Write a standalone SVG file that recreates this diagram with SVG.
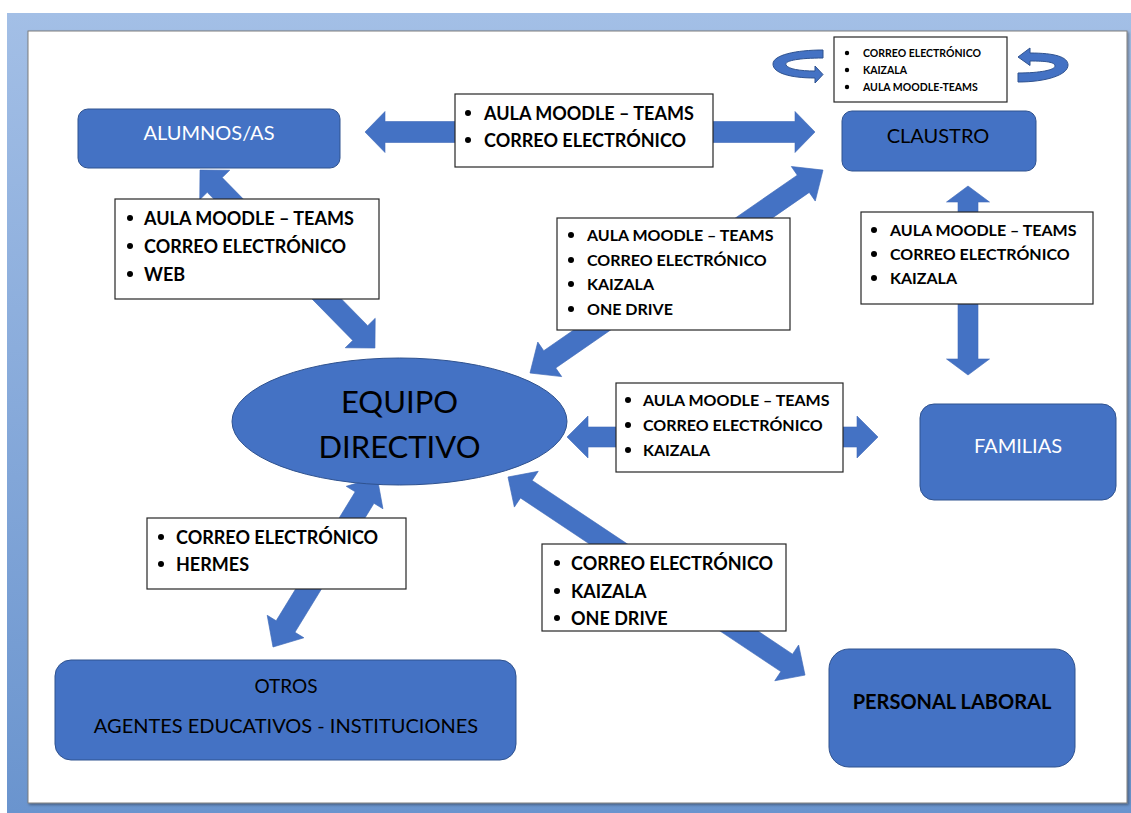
<svg xmlns="http://www.w3.org/2000/svg" width="1131" height="813" viewBox="0 0 1131 813">
<defs>
<linearGradient id="bg" x1="0" y1="0" x2="0" y2="1">
<stop offset="0" stop-color="#A3BFE6"/>
<stop offset="1" stop-color="#6A94CE"/>
</linearGradient>
<filter id="sh" x="-5%" y="-5%" width="110%" height="110%">
<feDropShadow dx="1.5" dy="1.5" stdDeviation="1" flood-color="#000" flood-opacity="0.35"/>
</filter>
</defs>
<style>
.shape{fill:#4472C4;stroke:#2F528F;stroke-width:1}
.arrow{fill:#4472C4;stroke:#3F6AB8;stroke-width:0.6}
.box{fill:#FFFFFF;stroke:#262626;stroke-width:1.2}
.bul{fill:#000}
.t{font-family:Lato,"Liberation Sans",sans-serif;fill:#000}
.w{fill:#FFFFFF}
.lb{font-weight:bold;font-size:18px}
.lm{font-weight:bold;font-size:16px}
.ls{font-weight:bold;font-size:10.5px}
.mid{text-anchor:middle}
</style>
<rect x="0" y="0" width="1131" height="813" fill="#FFFFFF"/>
<rect x="7" y="13" width="1124" height="800" fill="url(#bg)"/>
<rect x="28" y="31" width="1099" height="772" fill="#FFFFFF" stroke="#7F7F7F" stroke-width="1" filter="url(#sh)"/>

<g id="connectors">
<polygon class="arrow" transform="translate(365,132)" points="0,0 20,-20.5 20,-10.5 430,-10.5 430,-20.5 450,0 430,20.5 430,10.5 20,10.5 20,20.5"/>
<polygon class="arrow" transform="translate(200,170) rotate(45.5)" points="0,0 21,-21 21,-10.5 228.6,-10.5 228.6,-21 249.6,0 228.6,21 228.6,10.5 21,10.5 21,21"/>
<polygon class="arrow" transform="translate(530,373) rotate(-34.7)" points="0,0 24,-21 24,-10.5 332.4,-10.5 332.4,-21 356.4,0 332.4,21 332.4,10.5 24,10.5 24,21"/>
<polygon class="arrow" transform="translate(968,186) rotate(90)" points="0,0 16,-21.5 16,-10 173,-10 173,-21.5 189,0 173,21.5 173,10 16,10 16,21.5"/>
<polygon class="arrow" transform="translate(567,437) rotate(0)" points="0,0 21,-21 21,-10 290,-10 290,-21 311,0 290,21 290,10 21,10 21,21"/>
<polygon class="arrow" transform="translate(273,647) rotate(-58.5)" points="0,0 24,-21.5 24,-11 175.3,-11 175.3,-21.5 199.3,0 175.3,21.5 175.3,11 24,11 24,21.5"/>
<polygon class="arrow" transform="translate(508,477) rotate(33.7)" points="0,0 22,-21.5 22,-10.5 335,-10.5 335,-21.5 357,0 335,21.5 335,10.5 22,10.5 22,21.5"/>
<path class="shape" d="M 823 50 L 823 58 C 797 58 784 61 786 65 C 788 69 800 71 815 71 L 815 66 L 823 74.5 L 815 83 L 815 78 C 790 78 773 73 773 64 C 773 55 796 50 823 50 Z"/>
<path class="shape" d="M 1018 57 L 1030 48 L 1030 53 C 1055 53 1068 57 1068 65 C 1068 75 1046 82 1018 82 L 1018 73 C 1040 73 1055 70 1055 66 C 1055 62 1046 61 1030 61 L 1030 65.5 Z"/>
</g>

<g id="alumnos">
<rect class="shape" x="78" y="109" width="262" height="59" rx="10"/>
<text class="t w mid" x="209" y="140" font-size="20">ALUMNOS/AS</text>
</g>

<g id="claustro">
<rect class="shape" x="842" y="111" width="194" height="60" rx="10"/>
<text class="t mid" x="938" y="143" font-size="20">CLAUSTRO</text>
</g>

<g id="familias">
<rect class="shape" x="920" y="404" width="196" height="96" rx="14"/>
<text class="t w mid" x="1018" y="453" font-size="20">FAMILIAS</text>
</g>

<g id="equipo">
<ellipse class="shape" cx="399.5" cy="421.5" rx="167.5" ry="63.5"/>
<text class="t mid" x="399.5" y="413" font-size="31">EQUIPO</text>
<text class="t mid" x="399.5" y="458" font-size="31">DIRECTIVO</text>
</g>

<g id="otros">
<rect class="shape" x="55" y="660" width="461" height="100" rx="16"/>
<text class="t mid" x="286" y="693" font-size="19">OTROS</text>
<text class="t mid" x="286" y="733" font-size="20">AGENTES EDUCATIVOS - INSTITUCIONES</text>
</g>

<g id="personal">
<rect class="shape" x="829" y="649" width="246" height="118" rx="20"/>
<text class="t mid" x="952" y="709" font-size="20" font-weight="bold">PERSONAL LABORAL</text>
</g>

<g id="label-claustro-interno">
<rect class="box" x="834" y="37" width="173" height="65"/>
<circle class="bul" cx="847" cy="53" r="2.2"/>
<circle class="bul" cx="847" cy="70" r="2.2"/>
<circle class="bul" cx="847" cy="87" r="2.2"/>
<text class="t ls" x="863" y="57">CORREO  ELECTRÓNICO</text>
<text class="t ls" x="863" y="74">KAIZALA</text>
<text class="t ls" x="863" y="91">AULA MOODLE-TEAMS</text>
</g>

<g id="label-alumnos-claustro">
<rect class="box" x="455" y="94" width="258" height="73"/>
<circle class="bul" cx="468" cy="113" r="3"/>
<circle class="bul" cx="468" cy="140" r="3"/>
<text class="t lb" x="484" y="119.5">AULA MOODLE – TEAMS</text>
<text class="t lb" x="484" y="146.5">CORREO ELECTRÓNICO</text>
</g>

<g id="label-alumnos-equipo">
<rect class="box" x="115" y="199" width="264" height="100"/>
<circle class="bul" cx="130" cy="218" r="3"/>
<circle class="bul" cx="130" cy="246" r="3"/>
<circle class="bul" cx="130" cy="274" r="3"/>
<text class="t lb" x="144" y="224.5">AULA MOODLE – TEAMS</text>
<text class="t lb" x="144" y="252.5">CORREO ELECTRÓNICO</text>
<text class="t lb" x="144" y="280.5">WEB</text>
</g>

<g id="label-equipo-claustro">
<rect class="box" x="557" y="218" width="233" height="112"/>
<circle class="bul" cx="571" cy="235" r="3"/>
<circle class="bul" cx="571" cy="260" r="3"/>
<circle class="bul" cx="571" cy="284" r="3"/>
<circle class="bul" cx="571" cy="309" r="3"/>
<text class="t lm" x="587" y="241">AULA MOODLE – TEAMS</text>
<text class="t lm" x="587" y="266">CORREO ELECTRÓNICO</text>
<text class="t lm" x="587" y="290">KAIZALA</text>
<text class="t lm" x="587" y="315">ONE DRIVE</text>
</g>

<g id="label-claustro-familias">
<rect class="box" x="861" y="212" width="232" height="92"/>
<circle class="bul" cx="874" cy="230" r="3"/>
<circle class="bul" cx="874" cy="254" r="3"/>
<circle class="bul" cx="874" cy="278" r="3"/>
<text class="t lm" x="890" y="236">AULA MOODLE – TEAMS</text>
<text class="t lm" x="890" y="260">CORREO ELECTRÓNICO</text>
<text class="t lm" x="890" y="284">KAIZALA</text>
</g>

<g id="label-equipo-familias">
<rect class="box" x="616" y="383" width="227" height="89"/>
<circle class="bul" cx="628" cy="400" r="3"/>
<circle class="bul" cx="628" cy="425" r="3"/>
<circle class="bul" cx="628" cy="450" r="3"/>
<text class="t lm" x="643" y="406">AULA MOODLE – TEAMS</text>
<text class="t lm" x="643" y="431">CORREO ELECTRÓNICO</text>
<text class="t lm" x="643" y="456">KAIZALA</text>
</g>

<g id="label-equipo-otros">
<rect class="box" x="147" y="518" width="259" height="71"/>
<circle class="bul" cx="161" cy="537" r="3"/>
<circle class="bul" cx="161" cy="564" r="3"/>
<text class="t lb" x="176" y="543.5">CORREO ELECTRÓNICO</text>
<text class="t lb" x="176" y="570.5">HERMES</text>
</g>

<g id="label-equipo-personal">
<rect class="box" x="542" y="544" width="244" height="87"/>
<circle class="bul" cx="557" cy="563" r="3"/>
<circle class="bul" cx="557" cy="591" r="3"/>
<circle class="bul" cx="557" cy="618" r="3"/>
<text class="t lb" x="571" y="569.5">CORREO ELECTRÓNICO</text>
<text class="t lb" x="571" y="597.5">KAIZALA</text>
<text class="t lb" x="571" y="624.5">ONE DRIVE</text>
</g>
</svg>
